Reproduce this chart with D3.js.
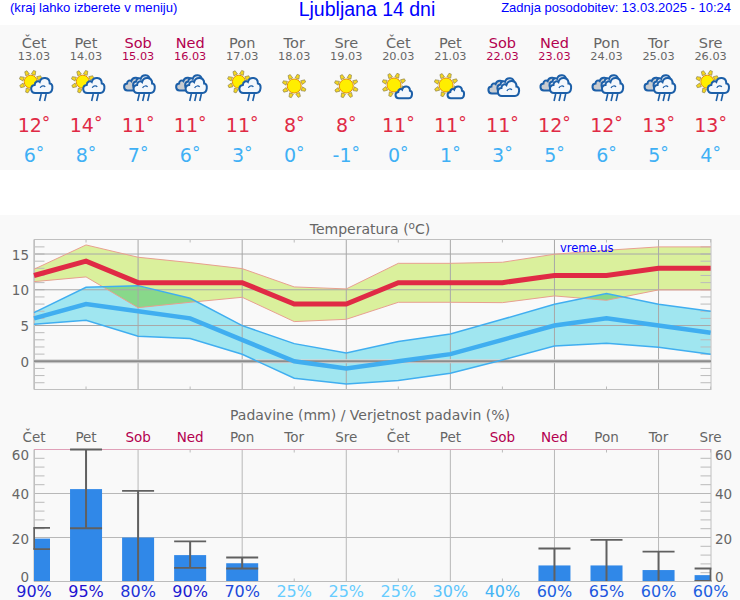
<!DOCTYPE html>
<html>
<head>
<meta charset="utf-8">
<script src="https://cdn.jsdelivr.net/npm/d3@7"></script>
<style>
  html, body { margin: 0; padding: 0; background: #fff; }
  svg { display: block; }
  text { font-family: "DejaVu Sans", sans-serif; }
</style>
</head>
<body>
<div id="chart"></div>
<script>
const days = ['Čet', 'Pet', 'Sob', 'Ned', 'Pon', 'Tor', 'Sre', 'Čet', 'Pet', 'Sob', 'Ned', 'Pon', 'Tor', 'Sre'];
const dates = ['13.03', '14.03', '15.03', '16.03', '17.03', '18.03', '19.03', '20.03', '21.03', '22.03', '23.03', '24.03', '25.03', '26.03'];
const icons = ['sunrain', 'sunrain', 'cloudrain', 'cloudrain', 'sunrain', 'sun', 'sun', 'suncloud', 'suncloud', 'cloud', 'cloudrain', 'cloudrain', 'cloudrain', 'sunrain'];

const tMax = [12, 14, 11, 11, 11, 8, 8, 11, 11, 11, 12, 12, 13, 13];
const tMaxHigh = [12.87, 16.27, 14.55, 13.8, 12.96, 10.4, 10.12, 13.7, 13.7, 13.85, 14.97, 15.52, 16, 16];
const tMaxLow = [11.14, 11.8, 7.5, 8.25, 8.95, 5.55, 5.87, 8.25, 8.25, 8.2, 9.14, 8.53, 9.98, 9.98];
const tMin = [6, 8, 7, 6, 3, 0, -1, 0, 1, 3, 5, 6, 5, 4];
const tMinHigh = [6.8, 10.35, 10.58, 8.81, 4.99, 2.47, 1.17, 2.75, 3.82, 5.87, 7.97, 9.46, 7.97, 6.99];
const tMinLow = [5.17, 5.73, 3.5, 3.17, 0.98, -2.38, -3.17, -2.7, -1.68, 0.19, 2.14, 2.52, 1.96, 0.98];

const rain = [19.5, 42, 20, 12, 8.3, 0, 0, 0, 0, 0, 7.3, 7.3, 5.2, 2.9];
const rainHigh = [24.4, 60, 41.2, 18.2, 10.9, 0, 0, 0, 0, 0, 15, 18.9, 13.6, 5.9];
const rainLow = [14.7, 24.2, 0, 6.2, 5.9, 0, 0, 0, 0, 0, 0, 0, 0, 0.3];
const rainProb = [90, 95, 80, 90, 70, 25, 25, 25, 30, 40, 60, 65, 60, 60];
const rainTicks = [0, 20, 40, 60];
const rainTickBase = [582, 544, 499, 460];

const weekendColor = '#b3004f', dayColor = '#666';
const dayCol = i => (days[i] === 'Sob' || days[i] === 'Ned') ? weekendColor : dayColor;

const svg = d3.select('#chart').append('svg').attr('width', 740).attr('height', 600);
const defs = svg.append('defs');

svg.append('rect').attr('x', 0).attr('y', 25).attr('width', 740).attr('height', 145).attr('fill', '#f9f9f9');
svg.append('rect').attr('x', 0).attr('y', 215).attr('width', 740).attr('height', 385).attr('fill', '#f9f9f9');

// header
const sans = '"Liberation Sans", Arial, sans-serif';
svg.append('text').attr('x', 10).attr('y', 12).attr('fill', '#0000ff').style('font-family', sans).style('font-size', '13.1px').text('(kraj lahko izberete v meniju)');
svg.append('text').attr('x', 367).attr('y', 16).attr('text-anchor', 'middle').attr('fill', '#0000ff').style('font-family', sans).style('font-size', '19.5px').text('Ljubljana 14 dni');
svg.append('text').attr('x', 731).attr('y', 12).attr('text-anchor', 'end').attr('fill', '#0000ff').style('font-family', sans).style('font-size', '13px').text('Zadnja posodobitev: 13.03.2025 - 10:24');

const x = d3.scaleLinear().domain([0, 13]).range([34, 710.6]);

// forecast strip
const strip = svg.append('g').selectAll('g').data(days).join('g').attr('transform', (d, i) => `translate(${x(i)},0)`);
strip.append('text').attr('y', 48).attr('text-anchor', 'middle').attr('fill', (d, i) => dayCol(i)).style('font-size', '14.5px').text(d => d);
strip.append('text').attr('y', 60).attr('text-anchor', 'middle').attr('fill', (d, i) => dayCol(i)).style('font-size', '11.3px').text((d, i) => dates[i]);
const degree = (sel, vals, y, col) => {
  const t = sel.append('text').attr('y', y).attr('text-anchor', 'middle').attr('fill', col).style('font-size', '19px');
  t.append('tspan').text((d, i) => vals[i]);
  t.append('tspan').attr('dy', -3).style('font-size', '17px').text('°');
};
degree(strip, tMax, 132.3, '#e02a45');
degree(strip, tMin, 162.3, '#3fb0f5');
strip.append('g').attr('transform', 'translate(0,86)').each(function (d, i) { drawIcon(d3.select(this), icons[i]); });

function drawSun(g, cx, cy, r) {
  for (let a = 20; a < 380; a += 45) {
    g.append('path').attr('d', `M-2,${-r - 1} L-1.2,${-r - 5} L1.2,${-r - 5} L2,${-r - 1} Z`)
      .attr('transform', `translate(${cx},${cy}) rotate(${a})`)
      .attr('fill', '#f6d81f').attr('stroke', '#8a8050').attr('stroke-width', 0.6);
  }
  g.append('circle').attr('cx', cx).attr('cy', cy).attr('r', r).attr('fill', '#ffee00').attr('stroke', '#e89000').attr('stroke-width', 1);
}
function drawCloud(g, dx, dy, s, fill, curl) {
  const c = g.append('g').attr('transform', `translate(${dx},${dy}) scale(${s})`);
  c.append('path')
    .attr('d', 'M-6,7.5 C-11,7.5 -11.5,0 -6.5,-0.5 C-6.5,-4 -3,-5 -1.5,-3.5 C0,-9 8.5,-9 8.5,-2 C12.5,-1.5 12,7.5 7,7.5 Z')
    .attr('fill', fill).attr('stroke', '#1c5fa8').attr('stroke-width', 2 / s);
  if (curl) c.append('path').attr('d', 'M-1,2.5 C0,0 3,0 4,1.5').attr('fill', 'none').attr('stroke', '#1c5fa8').attr('stroke-width', 1.2 / s);
}
function drawRain(g, dx, dy, n) {
  for (let k = 0; k < n; k++) {
    g.append('line').attr('x1', dx + k * 5 + 1.2).attr('y1', dy).attr('x2', dx + k * 5 - 0.4).attr('y2', dy + 7)
      .attr('stroke', '#1c5fa8').attr('stroke-width', 1.6);
  }
}
function drawIcon(g, kind) {
  if (kind === 'sun') drawSun(g, 0, 0, 7);
  if (kind === 'sunrain') {
    drawSun(g, -3.3, -4.3, 6.5);
    drawCloud(g, 7.2, -0.6, 1, '#f4f8fc', true);
    drawRain(g, 6, 8, 2);
  }
  if (kind === 'suncloud') {
    drawSun(g, -4.3, -1, 7);
    drawCloud(g, 5, 6.3, 0.78, '#f4f8fc', false);
  }
  if (kind === 'cloud' || kind === 'cloudrain') {
    const d = kind === 'cloud' ? 3 : 0;
    drawCloud(g, -5.5, -2 + d, 0.85, '#c9ccd0', false);
    drawCloud(g, 4, -4 + d, 0.9, '#dfe6ef', false);
    drawCloud(g, 5.5, -0.5 + d, 1, '#f4f8fc', true);
    if (kind === 'cloudrain') drawRain(g, 0, 8, 3);
  }
}

const textCol = '#666';

// temperature panel
const yT = d3.scaleLinear().domain([-3.92, 17.06]).range([389.3, 239.3]);
svg.append('text').attr('x', 370).attr('y', 234).attr('text-anchor', 'middle').attr('fill', textCol).style('font-size', '14px')
  .html('Temperatura (<tspan dy="-5" font-size="10.5">o</tspan><tspan dy="5">C)</tspan>');

const band = (hi, lo) => d3.area().x((d, i) => x(i)).y0((d, i) => yT(lo[i])).y1((d, i) => yT(hi[i]))(days);
const edge = v => d3.line().x((d, i) => x(i)).y((d, i) => yT(v[i]))(days);

defs.append('clipPath').attr('id', 'blue-band').append('path').attr('d', band(tMinHigh, tMinLow));

const temp = svg.append('g');
temp.append('path').attr('d', band(tMaxHigh, tMaxLow)).attr('fill', '#daf09c');
temp.append('path').attr('d', band(tMinHigh, tMinLow)).attr('fill', '#a0e6f0');
temp.append('path').attr('d', band(tMaxHigh, tMaxLow)).attr('clip-path', 'url(#blue-band)').attr('fill', '#88d88a');

drawFrame(temp, yT, d3.range(-3, 17), [5, 10, 15], 239.5, 389.5, '#a8a8a8');

temp.append('line').attr('x1', 34).attr('x2', 711).attr('y1', yT(0)).attr('y2', yT(0)).attr('stroke', '#d4d4d4').attr('stroke-width', 4);
temp.append('line').attr('x1', 34).attr('x2', 711).attr('y1', yT(0)).attr('y2', yT(0)).attr('stroke', '#8c8c8c').attr('stroke-width', 2);

[tMaxHigh, tMaxLow].forEach(v => temp.append('path').attr('d', edge(v)).attr('fill', 'none').attr('stroke', '#e8a090').attr('stroke-width', 1));
[tMinHigh, tMinLow].forEach(v => temp.append('path').attr('d', edge(v)).attr('fill', 'none').attr('stroke', '#40aef0').attr('stroke-width', 1.5));
temp.append('path').attr('d', edge(tMin)).attr('fill', 'none').attr('stroke', '#40aef0').attr('stroke-width', 4.5);
temp.append('path').attr('d', edge(tMax)).attr('fill', 'none').attr('stroke', '#e02a45').attr('stroke-width', 5);

temp.selectAll('.yl').data([0, 5, 10, 15]).join('text').attr('x', 29).attr('y', d => yT(d) + 5.5).attr('text-anchor', 'end')
  .attr('fill', textCol).style('font-size', '13.5px').text(d => d);
svg.append('text').attr('x', 560).attr('y', 252).attr('fill', '#0000ff').style('font-size', '11.5px').text('vreme.us');

function drawFrame(g, y, minors, majors, top, bottom, gridCol) {
  minors.forEach(v => {
    [[34, 44.5], [700.5, 711]].forEach(r => g.append('line').attr('x1', r[0]).attr('x2', r[1]).attr('y1', y(v)).attr('y2', y(v)).attr('stroke', '#bbb'));
  });
  majors.forEach(v => g.append('line').attr('x1', 34).attr('x2', 711).attr('y1', y(v)).attr('y2', y(v)).attr('stroke', gridCol));
  days.forEach((d, i) => {
    if (i % 2 === 0) {
      g.append('line').attr('x1', x(i)).attr('x2', x(i)).attr('y1', top).attr('y2', bottom).attr('stroke', gridCol);
    } else {
      g.append('line').attr('x1', x(i)).attr('x2', x(i)).attr('y1', top).attr('y2', top + 3).attr('stroke', '#bbb');
      g.append('line').attr('x1', x(i)).attr('x2', x(i)).attr('y1', bottom - 3).attr('y2', bottom).attr('stroke', '#bbb');
    }
  });
  g.append('rect').attr('x', 34.5).attr('y', top).attr('width', 676.5).attr('height', bottom - top).attr('fill', 'none').attr('stroke', '#c0c0c0');
}

// precipitation panel
const yR = d3.scaleLinear().domain([0, 60]).range([581.5, 449.5]);
svg.append('text').attr('x', 370).attr('y', 420).attr('text-anchor', 'middle').attr('fill', textCol).style('font-size', '14px').text('Padavine (mm) / Verjetnost padavin (%)');

const prec = svg.append('g');
drawFrame(prec, yR, d3.range(4, 60, 4), [20, 40], 449.5, 581.5, '#b8b8b8');
prec.append('line').attr('x1', 34).attr('x2', 711).attr('y1', 449.5).attr('y2', 449.5).attr('stroke', '#e0a0b8');

defs.append('clipPath').attr('id', 'plot-r').append('rect').attr('x', 33.4).attr('y', 448).attr('width', 678).attr('height', 134);
const bars = prec.append('g').attr('clip-path', 'url(#plot-r)');
bars.selectAll('rect').data(rain).join('rect')
  .attr('x', (d, i) => Math.max(x(i) - 16, 34)).attr('width', (d, i) => i === 0 ? 16 : i === 13 ? 16 : 32)
  .attr('y', d => yR(d)).attr('height', d => yR(0) - yR(d))
  .attr('fill', '#3088e8');
days.forEach((d, i) => {
  if (!rainHigh[i]) return;
  const cx = x(i);
  bars.append('line').attr('x1', cx).attr('x2', cx).attr('y1', yR(rainHigh[i])).attr('y2', yR(rainLow[i])).attr('stroke', '#606060').attr('stroke-width', 2);
  [rainHigh[i], rainLow[i]].forEach(v => {
    if (v > 0) bars.append('line').attr('x1', cx - 16).attr('x2', cx + 16).attr('y1', yR(v)).attr('y2', yR(v)).attr('stroke', '#606060').attr('stroke-width', 1.8);
  });
});
prec.append('line').attr('x1', 34).attr('x2', 711).attr('y1', 581.5).attr('y2', 581.5).attr('stroke', '#bbb');

svg.append('g').selectAll('text').data(days).join('text').attr('x', (d, i) => x(i)).attr('y', 442).attr('text-anchor', 'middle')
  .attr('fill', (d, i) => dayCol(i)).style('font-size', '13.5px').text(d => d);
rainTicks.forEach((v, k) => {
  svg.append('text').attr('x', 29).attr('y', rainTickBase[k]).attr('text-anchor', 'end').attr('fill', textCol).style('font-size', '13.5px').text(v);
  svg.append('text').attr('x', 715).attr('y', rainTickBase[k]).attr('fill', textCol).style('font-size', '13.5px').text(v);
});

const probCol = d3.scaleLinear().domain([25, 40, 60, 95]).range(['#66ccff', '#44b4f5', '#2060e0', '#2010d0']);
svg.append('g').selectAll('text').data(rainProb).join('text').attr('x', (d, i) => x(i)).attr('y', 597).attr('text-anchor', 'middle')
  .attr('fill', d => probCol(d)).style('font-size', '16px').text(d => d + '%');
</script>
</body>
</html>
